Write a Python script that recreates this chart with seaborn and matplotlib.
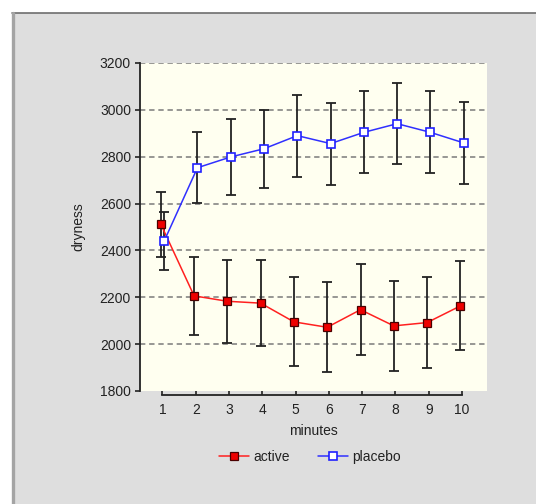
import numpy as np
import pandas as pd
import matplotlib
matplotlib.use("Agg")
import matplotlib.pyplot as plt
from matplotlib.lines import Line2D
from matplotlib.patches import Rectangle
import seaborn as sns

minutes = [1, 2, 3, 4, 5, 6, 7, 8, 9, 10]
active_mean = [2512, 2206, 2183, 2175, 2095, 2072, 2147, 2078, 2092, 2163]
active_err = [139, 166, 177, 183, 190, 192, 194, 191, 193, 190]
placebo_mean = [2440, 2753, 2799, 2834, 2890, 2856, 2904, 2941, 2904, 2859]
placebo_err = [124, 151, 161, 167, 175, 175, 175, 174, 175, 174]
y_ticks = [1800, 2000, 2200, 2400, 2600, 2800, 3000, 3200]

sns.set_style("white")
plt.rcParams['font.family'] = ['Liberation Sans', 'DejaVu Sans']

fig = plt.figure(figsize=(5.36, 5.04), dpi=100)
fig.patch.set_facecolor('white')
# gray panel
fig.patches.append(Rectangle((11.5/536, 0), 1, (504-12.5)/504, transform=fig.transFigure,
                             facecolor='#dedede', edgecolor='none', zorder=-10))
fig.lines.append(Line2D([11.5/536, 1], [1-12.5/504, 1-12.5/504], transform=fig.transFigure,
                        color='#6e6e6e', lw=1.2, zorder=-9))
fig.lines.append(Line2D([12.5/536, 12.5/536], [0, 1-12.5/504], transform=fig.transFigure,
                        color='#a4a4a4', lw=2.4, zorder=-9))

ax = fig.add_axes([140/536, 1-391/504, (486.5-140)/536, (391-63)/504])
ax.set_zorder(1)
ax.set_facecolor('#fffff0')

df = pd.DataFrame({
    'minutes': minutes * 2,
    'dryness': active_mean + placebo_mean,
    'err': active_err + placebo_err,
    'group': ['active'] * len(minutes) + ['placebo'] * len(minutes),
})
offs = {'active': -0.05, 'placebo': 0.05}
df['xpos'] = df['minutes'] + df['group'].map(offs)

for g in ['active', 'placebo']:
    d = df[df['group'] == g]
    ax.errorbar(d['xpos'], d['dryness'], yerr=d['err'], fmt='none', ecolor='#222222',
                elinewidth=1.3, capsize=3.5, capthick=1.3, zorder=2)

a = df[df['group'] == 'active']
p = df[df['group'] == 'placebo']
sns.lineplot(x=a['xpos'], y=a['dryness'], ax=ax, color='#ff2020', lw=1.1, marker='s',
             markersize=6, markerfacecolor='#ee0000', markeredgecolor='#4a0000',
             markeredgewidth=0.9, zorder=3, label='active')
sns.lineplot(x=p['xpos'], y=p['dryness'], ax=ax, color='#3030ff', lw=1.1, marker='s',
             markersize=6, markerfacecolor='white', markeredgecolor='#2020ff',
             markeredgewidth=1.2, zorder=4, label='placebo')

ax.set_xlim(0.324, 10.736)
ax.set_ylim(1800, 3200)
ax.set_yticks(y_ticks)
ax.set_xticks(minutes)
ax.set_xticklabels([str(m) for m in minutes])
for yv in y_ticks[1:]:
    ax.axhline(yv, color='#7a7a7a', lw=1.1, ls=(0, (3.5, 2.5)), zorder=1)

for s in ['top', 'right']:
    ax.spines[s].set_visible(False)
ax.spines['left'].set_color('#222222')
ax.spines['left'].set_linewidth(1.3)
ax.spines['bottom'].set_color('#222222')
ax.spines['bottom'].set_linewidth(1.3)
ax.spines['bottom'].set_position(('outward', 3))
ax.spines['bottom'].set_bounds(1, 10)
ax.tick_params(axis='y', direction='out', length=3.5, width=1.2, color='#222222',
               labelsize=10, labelcolor='#222222', pad=3, left=True)
ax.tick_params(axis='x', direction='in', length=3, width=1.2, color='#222222',
               labelsize=10, labelcolor='#222222', pad=6, bottom=True)
ax.set_xlabel('minutes', fontsize=10, color='#222222', labelpad=5)
ax.set_ylabel('dryness', fontsize=10, color='#222222', labelpad=10)

ax.get_legend().remove()
handles = [
    Line2D([], [], color='#ff2020', lw=1.1, marker='s', markersize=6, markerfacecolor='#ee0000',
           markeredgecolor='#4a0000', markeredgewidth=0.9),
    Line2D([], [], color='#3030ff', lw=1.1, marker='s', markersize=6, markerfacecolor='white',
           markeredgecolor='#2020ff', markeredgewidth=1.2),
]
fig.legend(handles, ['active', 'placebo'], loc='center', bbox_to_anchor=(310/536, 1-457/504),
           ncol=2, frameon=False, fontsize=10, handlelength=2.2, handletextpad=0.3,
           columnspacing=2.0, labelcolor='#222222')

fig.savefig('out.png', dpi=100, facecolor=fig.get_facecolor())
